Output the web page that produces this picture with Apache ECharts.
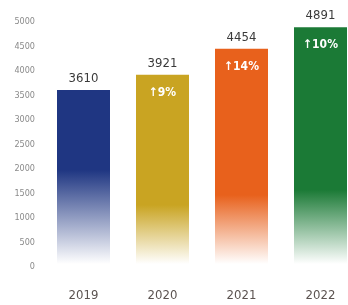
<!DOCTYPE html>
<html>
<head>
<meta charset="utf-8">
<script src="https://cdn.jsdelivr.net/npm/echarts@6/dist/echarts.min.js"></script>
<style>
  html, body { margin: 0; padding: 0; background: #fff; }
  #main { width: 348px; height: 305px; }
</style>
</head>
<body>
<div id="main"></div>
<script>
// 年份 / 数值 / 增长率
const years = ['2019', '2020', '2021', '2022'];
const values = [3610, 3921, 4454, 4891];
const growth = [null, 9, 14, 10];
const barColors = ['#1f3682', '#c9a422', '#e8611c', '#1b7a36'];

const font = '"Liberation Sans Narrow", "DejaVu Sans Condensed", sans-serif';

// 底部渐隐（全局像素坐标）
function fade(c, solidTo) {
  return {
    type: 'linear', x: 0, y: solidTo, x2: 0, y2: 264,
    colorStops: [
      { offset: 0, color: c },
      { offset: 1, color: '#ffffff' }
    ],
    global: true
  };
}
const solidEnd = [170, 205, 195, 190];

const chart = echarts.init(document.getElementById('main'));
chart.setOption({
  animation: false,
  grid: { left: 44, right: -12, top: 22, bottom: 38, outerBoundsMode: 'none', containLabel: false },
  xAxis: {
    type: 'category',
    data: years,
    axisLine: { show: false },
    axisTick: { show: false },
    axisLabel: { margin: 22, fontSize: 13, color: '#5b5350', fontFamily: font }
  },
  yAxis: {
    type: 'value',
    min: 0,
    max: 5000,
    interval: 500,
    splitLine: { show: false },
    axisLabel: { fontSize: 9, color: '#8a8a8a', margin: 9, fontFamily: font, formatter: v => String(v) }
  },
  series: [
    {
      type: 'bar',
      barWidth: 53,
      data: values.map((v, i) => ({ value: v, itemStyle: { color: fade(barColors[i], solidEnd[i]) } })),
      label: {
        show: true,
        position: 'top',
        distance: 5,
        fontSize: 13,
        color: '#3a3a3a',
        fontFamily: font
      }
    },
    {
      type: 'bar',
      barWidth: 53,
      barGap: '-100%',
      data: values,
      itemStyle: { color: 'transparent' },
      label: {
        show: true,
        position: 'insideTop',
        distance: 12,
        fontSize: 12,
        fontWeight: 'bold',
        color: '#ffffff',
        fontFamily: font,
        formatter: p => growth[p.dataIndex] == null ? '' : '\u2191' + growth[p.dataIndex] + '%'
      },
      silent: true
    }
  ]
});
</script>
</body>
</html>
